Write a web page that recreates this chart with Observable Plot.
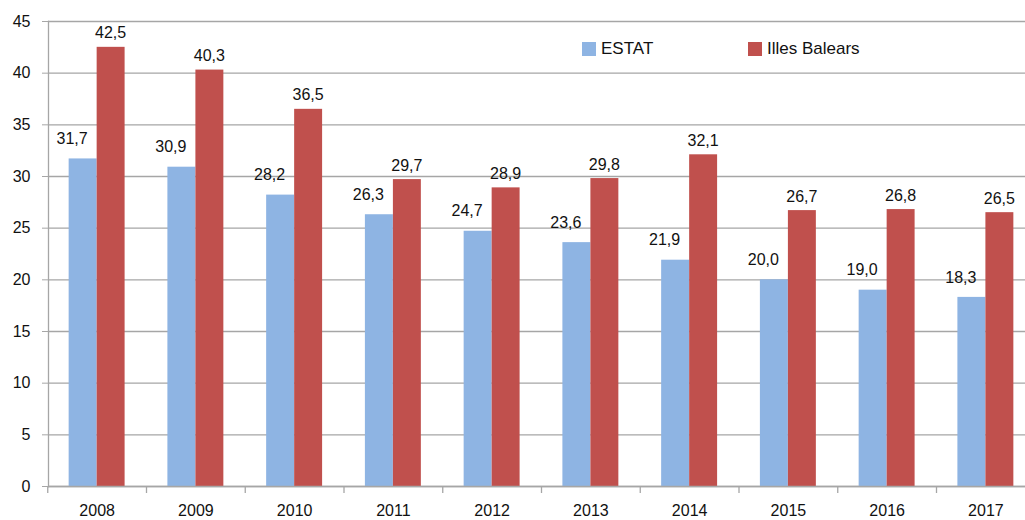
<!DOCTYPE html>
<html>
<head>
<meta charset="utf-8">
<script src="https://cdn.jsdelivr.net/npm/d3@7"></script>
<script src="https://cdn.jsdelivr.net/npm/@observablehq/plot@0.6"></script>
<style>
  html, body { margin: 0; padding: 0; background: #fff; }
  #wrap { position: relative; width: 1025px; height: 520px; overflow: hidden; font-family: "Liberation Sans", Arial, sans-serif; }
  .leg { position: absolute; top: 39px; display: flex; align-items: center; font-size: 17px; color: #111; }
  .leg span.sw { display: inline-block; width: 14px; height: 14px; margin-right: 5px; }
</style>
</head>
<body>
<div id="wrap">
  <div id="chart"></div>
</div>
<script>
const years = ["2008","2009","2010","2011","2012","2013","2014","2015","2016","2017"];
const estat = [31.7, 30.9, 28.2, 26.3, 24.7, 23.6, 21.9, 20.0, 19.0, 18.3];
const balears = [42.5, 40.3, 36.5, 29.7, 28.9, 29.8, 32.1, 26.7, 26.8, 26.5];
const seriesNames = ["ESTAT", "Illes Balears"];
const seriesColors = ["#8EB4E3", "#C0504D"];
const yTicks = [0, 5, 10, 15, 20, 25, 30, 35, 40, 45];

const rowsE = years.map((y, i) => ({year: y, value: estat[i]}));
const rowsB = years.map((y, i) => ({year: y, value: balears[i]}));
const fmt = v => v.toFixed(1).replace(".", ",");

const step = 98.75;
const font = "Liberation Sans, Arial, sans-serif";

const chart = Plot.plot({
  width: 1025,
  height: 520,
  marginLeft: 48,
  marginRight: 0,
  marginTop: 21,
  marginBottom: 34,
  style: {fontFamily: font, fontSize: "16px", color: "#111", background: "#fff"},
  x: {type: "band", domain: years, range: [47.25, 47.25 + step * years.length], padding: 0, round: false, label: null},
  y: {domain: [0, 45], ticks: yTicks, label: null},
  marks: [
    Plot.gridY(yTicks, {stroke: "#a6a6a6", strokeOpacity: 1, strokeWidth: 1.3}),
    Plot.barY(rowsE, {x: "year", y: "value", fill: seriesColors[0], insetLeft: 21.4, insetRight: 49.4}),
    Plot.barY(rowsB, {x: "year", y: "value", fill: seriesColors[1], insetLeft: 49.4, insetRight: 21.4}),
    Plot.text(rowsE, {x: "year", y: "value", text: d => fmt(d.value), dx: -25, dy: -20, fontSize: 16, fill: "#111"}),
    Plot.text(rowsB, {x: "year", y: "value", text: d => fmt(d.value), dx: 13.5, dy: -14, fontSize: 16, fill: "#111"}),
    Plot.frame({anchor: "left", stroke: "#a6a6a6", strokeWidth: 1.3}),
    Plot.ruleY([0], {stroke: "#a6a6a6", strokeWidth: 1.3}),
    Plot.ruleX(years, {x: d => d, y1: 0, y2: 0, dx: -step / 2, insetBottom: -7, stroke: "#a6a6a6", strokeWidth: 1.3}),
    Plot.axisY({ticks: yTicks, tickSize: 6, tickPadding: 12, stroke: "#a6a6a6", fontSize: 16, tickFormat: d => String(d), label: null}),
    Plot.axisX({tickSize: 0, tickPadding: 18, fontSize: 16, label: null})
  ]
});
document.getElementById("chart").appendChild(chart);

const wrap = document.getElementById("wrap");
const legPos = [582, 748];
seriesNames.forEach((name, i) => {
  const d = document.createElement("div");
  d.className = "leg";
  d.style.left = legPos[i] + "px";
  d.innerHTML = `<span class="sw" style="background:${seriesColors[i]}"></span><span>${name}</span>`;
  wrap.appendChild(d);
});
</script>
</body>
</html>
